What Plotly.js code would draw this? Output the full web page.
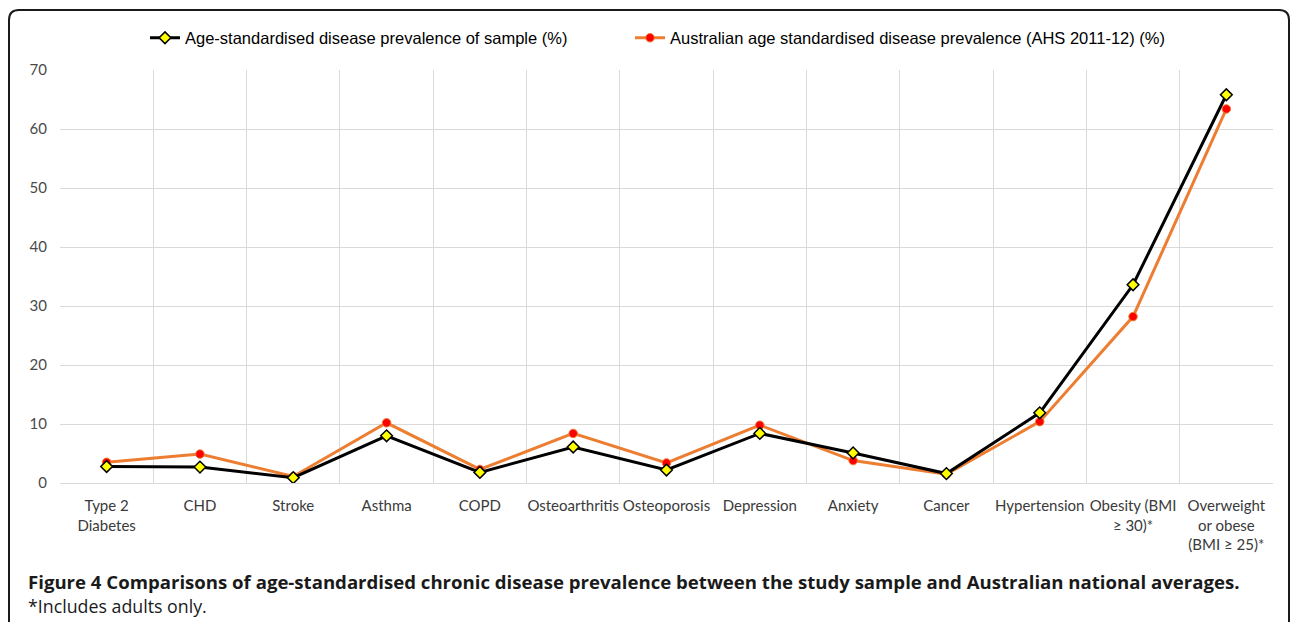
<!DOCTYPE html>
<html>
<head>
<meta charset="utf-8">
<script src="https://cdn.plot.ly/plotly-3.0.1.min.js"></script>
<style>html,body{margin:0;padding:0;background:#fff;}#chart{width:1290px;height:622px;}</style>
</head>
<body>
<div id="chart"></div>
<script>
const categories = ["Type 2<br>Diabetes", "CHD", "Stroke", "Asthma", "COPD", "Osteoarthritis", "Osteoporosis", "Depression", "Anxiety", "Cancer", "Hypertension", "Obesity (BMI<br>≥ 30)*", "Overweight<br>or obese<br>(BMI ≥ 25)*"];
const sampleValues = [2.8, 2.7, 0.9, 8.0, 1.8, 6.1, 2.2, 8.4, 5.1, 1.6, 11.9, 33.6, 65.8];
const australiaValues = [3.5, 4.9, 1.1, 10.2, 2.3, 8.4, 3.4, 9.8, 3.8, 1.5, 10.4, 28.2, 63.4];
const seriesNames = ["Age-standardised disease prevalence of sample (%)", "Australian age standardised disease prevalence (AHS 2011-12) (%)"];
const yTicks = [0, 10, 20, 30, 40, 50, 60, 70];

const W = 1290, H = 622;
const mL = 60, mR = 17, mT = 70, mB = 139;
const pw = W - mL - mR, ph = H - mT - mB;
const px = x => (x - mL) / pw;
const py = y => (H - mB - y) / ph;

const traces = [
  {
    x: categories, y: australiaValues, name: seriesNames[1], type: 'scatter', mode: 'lines+markers',
    line: {color: '#ED7D31', width: 3},
    marker: {symbol: 'circle', size: 8.5, color: '#FF0000', line: {color: '#ED7D31', width: 1}},
    legend: 'legend2'
  },
  {
    x: categories, y: sampleValues, name: seriesNames[0], type: 'scatter', mode: 'lines+markers',
    line: {color: '#000000', width: 3},
    marker: {symbol: 'diamond', size: 9, color: '#FFFF00', line: {color: '#000000', width: 1.5}},
    legend: 'legend'
  }
];

const r = 10;
const x0 = px(9), x1 = px(1289), yt = py(10), yb = py(660);
const rx = r / pw, ry = r / ph;
const borderPath = `M ${x0},${yb} L ${x0},${yt - ry} Q ${x0},${yt} ${x0 + rx},${yt} L ${x1 - rx},${yt} Q ${x1},${yt} ${x1},${yt - ry} L ${x1},${yb}`;

const tickFontFamily = 'Lato, "Open Sans", sans-serif';

const layout = {
  width: W, height: H, autosize: false,
  margin: {l: mL, r: mR, t: mT, b: mB, pad: 0},
  paper_bgcolor: '#ffffff', plot_bgcolor: '#ffffff',
  font: {family: tickFontFamily, size: 15, color: '#595959'},
  xaxis: {
    type: 'category', range: [-0.5, 12.5], tickson: 'boundaries',
    showgrid: true, gridcolor: '#D9D9D9', gridwidth: 1, ticks: '', showline: false,
    tickfont: {family: tickFontFamily, size: 15, color: '#3a3a3a'},
    ticklabelstandoff: 12, tickangle: 0, fixedrange: true
  },
  yaxis: {
    range: [0, 70], tickvals: yTicks, ticktext: yTicks.map(String),
    showgrid: true, gridcolor: '#D9D9D9', gridwidth: 1, zeroline: true, zerolinecolor: '#D9D9D9', zerolinewidth: 1,
    ticks: '', showline: false, ticklabelstandoff: 12,
    tickfont: {family: tickFontFamily, size: 15, color: '#4a4a4a'}, fixedrange: true
  },
  showlegend: true,
  legend: {
    orientation: 'h', x: px(145), xanchor: 'left', y: py(38), yanchor: 'middle',
    font: {family: '"Liberation Sans", Arial, sans-serif', size: 16.5, color: '#000000'},
    bgcolor: 'rgba(0,0,0,0)', borderwidth: 0
  },
  legend2: {
    orientation: 'h', x: px(630), xanchor: 'left', y: py(38), yanchor: 'middle',
    font: {family: '"Liberation Sans", Arial, sans-serif', size: 16.5, color: '#000000'},
    bgcolor: 'rgba(0,0,0,0)', borderwidth: 0
  },
  shapes: [
    {type: 'path', xref: 'paper', yref: 'paper', path: borderPath, line: {color: '#1a1a1a', width: 2}, layer: 'above'}
  ],
  annotations: [
    {xref: 'paper', yref: 'paper', x: px(26), y: py(581), xanchor: 'left', yanchor: 'middle', showarrow: false,
     text: '<b>Figure 4 Comparisons of age-standardised chronic disease prevalence between the study sample and Australian national averages.</b>',
     font: {family: '"Open Sans", sans-serif', size: 18.6, color: '#1a1a1a'}},
    {xref: 'paper', yref: 'paper', x: px(26), y: py(606), xanchor: 'left', yanchor: 'middle', showarrow: false,
     text: '*Includes adults only.',
     font: {family: '"Open Sans", sans-serif', size: 17.8, color: '#1a1a1a'}}
  ]
};

Plotly.newPlot('chart', traces, layout, {displayModeBar: false, staticPlot: true});
</script>
</body>
</html>
